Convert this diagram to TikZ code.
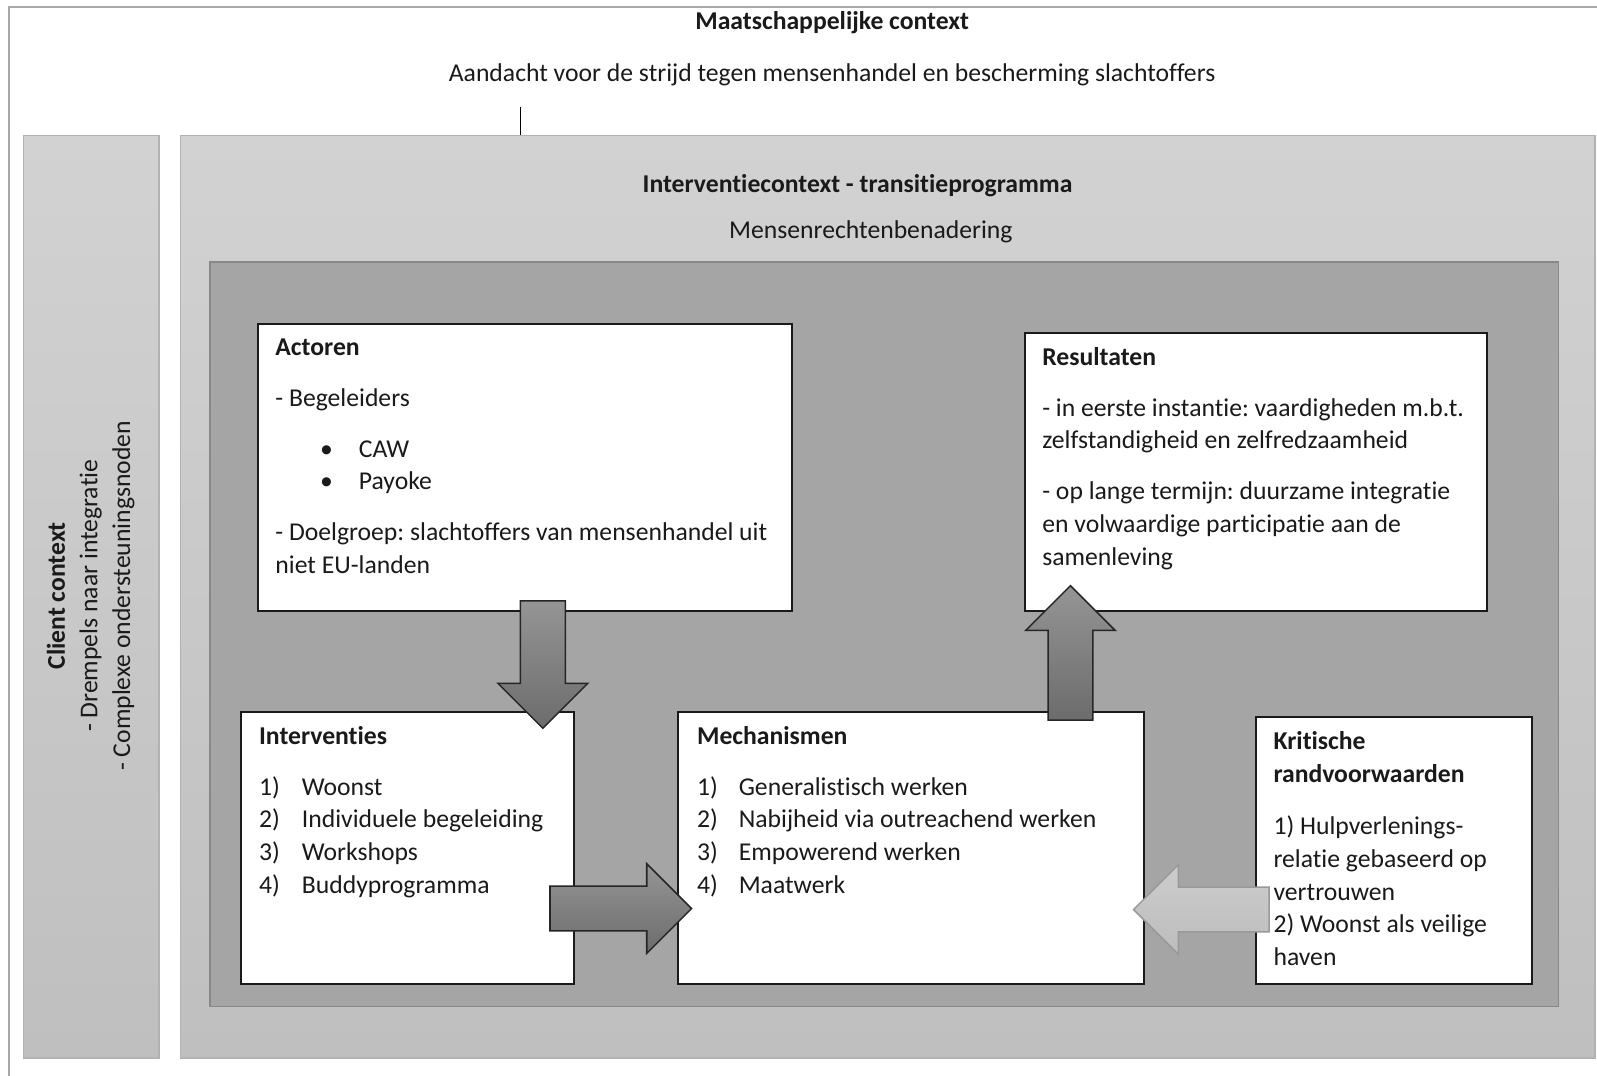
\documentclass[tikz,border=0pt]{standalone}
\usepackage{fontspec}
\setmainfont{Carlito}[Ligatures=NoCommon]
\usetikzlibrary{calc,fit}
\frenchspacing
\definecolor{tekstkleur}{HTML}{1A1A1A}
\definecolor{randlijn}{HTML}{A8A8A8}
\definecolor{vlakboven}{HTML}{D2D2D2}
\definecolor{vlakonder}{HTML}{BFBFBF}
\definecolor{vlaklijn}{HTML}{B2B2B2}
\definecolor{donkervlak}{HTML}{A5A5A5}
\definecolor{donkerlijn}{HTML}{888888}
\definecolor{pijlboven}{HTML}{959595}
\definecolor{pijlonder}{HTML}{6C6C6C}
\newcommand{\blokpijl}[4]{%
  \draw[#1,shift={(#2)},rotate=#3]
    (0,-22) -- (#4-44,-22) -- (#4-44,-44) -- (#4,0) -- (#4-44,44) -- (#4-44,22) -- (0,22) -- cycle;}
\begin{document}
\begin{tikzpicture}[x=0.5pt,y=-0.5pt,
    font=\fontsize{12.6}{16}\selectfont,
    vlak/.style={draw=vlaklijn,line width=0.75pt,top color=vlakboven,bottom color=vlakonder,inner sep=0pt},
    kader/.style={draw=tekstkleur,line width=1pt,fill=white,inner sep=0pt},
    tekst/.style={anchor=north west,align=left,inner sep=0pt,text=tekstkleur},
    midden/.style={inner sep=0pt,text=tekstkleur},
    donkerpijl/.style={draw=black!85,line width=0.75pt,top color=pijlboven,bottom color=pijlonder},
    lichtpijl/.style={draw=black!40,line width=0.75pt,top color=black!20,bottom color=black!26}]
  \useasboundingbox (0,0) rectangle (1568,1056);
  \draw[randlijn,line width=0.75pt] (9,1056) |- (1568,7);
  \node[midden,font=\fontsize{12.6}{16}\selectfont\bfseries] (maatschappij) at (817,22) {Maatschappelijke context};
  \node[midden] (aandacht) at (817,73) {Aandacht voor de strijd tegen mensenhandel en bescherming slachtoffers};
  \node[vlak,fit={(23,133) (156,1039)}] (client) {};
  \node[vlak,fit={(177,133) (1566,1039)}] (interventiecontext) {};
  \coordinate (streep) at (511,105);
  \draw[black,line width=0.75pt] (streep) -- (streep |- interventiecontext.north);
  \node[midden,rotate=90,align=center] (clienttekst) at (89,585)
    {\textbf{Client context}\\- Drempels naar integratie\\- Complexe ondersteuningsnoden};
  \node[midden,font=\fontsize{12.6}{16}\selectfont\bfseries] (transitie) at (842,182) {Interventiecontext - transitieprogramma};
  \node[midden] (mensenrechten) at (855,228) {Mensenrechtenbenadering};
  \node[draw=donkerlijn,line width=0.75pt,fill=donkervlak,inner sep=0pt,fit={(206,257) (1530,988)}] (kern) {};
  \node[kader,fit={(253,318) (778,600)}] (actoren) {};
  \node[kader,fit={(1006,327) (1460,600)}] (resultaten) {};
  \node[kader,fit={(237,699) (564,966)}] (interventies) {};
  \node[kader,fit={(666,699) (1123,966)}] (mechanismen) {};
  \node[kader,fit={(1233,704) (1504,966)}] (kritische) {};
  \node[tekst] (actorentekst) at (270,326) {\strut\textbf{Actoren}\\[9pt]
    - Begeleiders\\[9pt]
    \makebox[41pt][l]{\hspace{22pt}\textbullet}CAW\\
    \makebox[41pt][l]{\hspace{22pt}\textbullet}Payoke\\[9pt]
    - Doelgroep: slachtoffers van mensenhandel uit\\
    niet EU-landen};
  \node[tekst] (resultatentekst) at (1023,336) {\strut\textbf{Resultaten}\\[9pt]
    - in eerste instantie: vaardigheden m.b.t.\\
    zelfstandigheid en zelfredzaamheid\\[9pt]
    - op lange termijn: duurzame integratie\\
    en volwaardige participatie aan de\\
    samenleving};
  \node[tekst] (interventiestekst) at (254,708) {\strut\textbf{Interventies}\\[9pt]
    \makebox[21pt][l]{1)}Woonst\\
    \makebox[21pt][l]{2)}Individuele begeleiding\\
    \makebox[21pt][l]{3)}Workshops\\
    \makebox[21pt][l]{4)}Buddyprogramma};
  \node[tekst] (mechanismentekst) at (684,708) {\strut\textbf{Mechanismen}\\[9pt]
    \makebox[20.5pt][l]{1)}Generalistisch werken\\
    \makebox[20.5pt][l]{2)}Nabijheid via outreachend werken\\
    \makebox[20.5pt][l]{3)}Empowerend werken\\
    \makebox[20.5pt][l]{4)}Maatwerk};
  \node[tekst] (kritischetekst) at (1250,713) {\strut\textbf{Kritische}\\
    \textbf{randvoorwaarden}\\[10pt]
    1) Hulpverlenings-\\
    relatie gebaseerd op\\
    vertrouwen\\
    2) Woonst als veilige\\
    haven};
  \begin{scope}
    \blokpijl{donkerpijl}{$(actoren.south)+(17.5,-11)$}{-90}{125}
    \blokpijl{donkerpijl}{$(interventies.east)+(-25,59.5)$}{0}{139}
    \blokpijl{donkerpijl}{$(mechanismen.north)+(156.5,9)$}{90}{132}
    \blokpijl{lichtpijl}{$(kritische.west)+(14,58)$}{180}{133}
  \end{scope}
\end{tikzpicture}
\end{document}
